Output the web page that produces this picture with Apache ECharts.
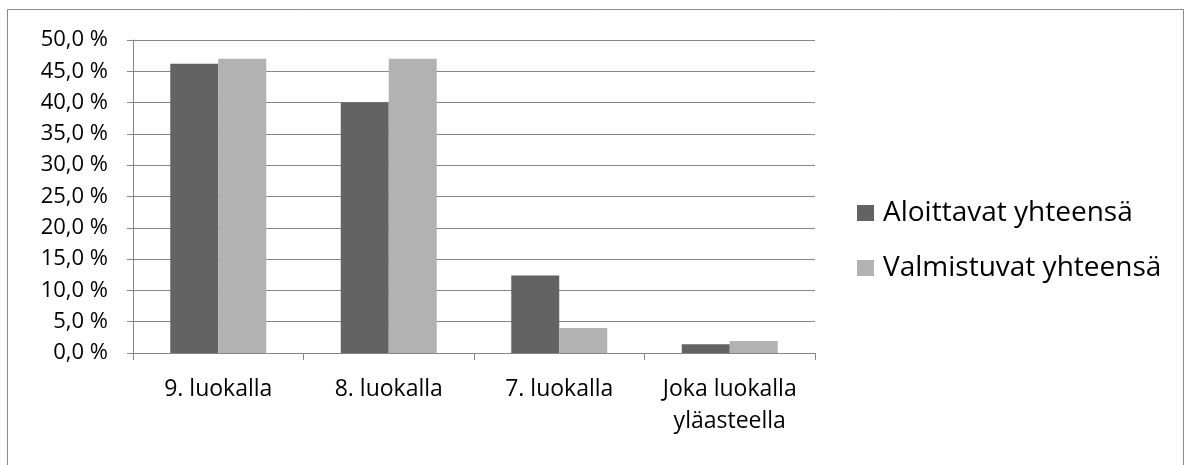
<!DOCTYPE html>
<html>
<head>
<meta charset="utf-8">
<script src="https://cdn.jsdelivr.net/npm/echarts@6/dist/echarts.min.js"></script>
<style>
html,body{margin:0;padding:0;background:#fff;}
#chart{width:1186px;height:465px;}
</style>
</head>
<body>
<div id="chart"></div>
<script>
const categories = ['9. luokalla', '8. luokalla', '7. luokalla', 'Joka luokalla\nyläasteella'];
const seriesNames = ['Aloittavat yhteensä', 'Valmistuvat yhteensä'];
const aloittavat = [46.2, 40.0, 12.4, 1.4];
const valmistuvat = [47.0, 47.0, 4.0, 1.9];
const yTicks = [0, 5, 10, 15, 20, 25, 30, 35, 40, 45, 50];

const FONT = 'Open Sans';
const chart = echarts.init(document.getElementById('chart'));
chart.setOption({
  animation: false,
  textStyle: { fontFamily: FONT },
  graphic: [{
    type: 'rect',
    shape: { x: 7.5, y: 9.5, width: 1176, height: 470 },
    style: { fill: 'none', stroke: '#8c8c8c', lineWidth: 1 },
    silent: true
  }],
  legend: {
    orient: 'vertical',
    left: 857,
    top: 198,
    padding: 0,
    itemWidth: 17,
    itemHeight: 16,
    itemGap: 25,
    icon: 'rect',
    textStyle: { fontFamily: FONT, fontSize: 28, color: '#000', lineHeight: 30, padding: [0, 0, 0, 4] },
    data: seriesNames
  },
  grid: { left: 133, right: 371, top: 40, bottom: 112, containLabel: false },
  xAxis: {
    type: 'category',
    data: categories,
    axisLine: { lineStyle: { color: '#868686', width: 1 } },
    axisTick: { show: true, length: 7, lineStyle: { color: '#868686' } },
    axisLabel: { interval: 0, hideOverlap: false, fontFamily: FONT, fontSize: 23, color: '#000', margin: 20, lineHeight: 32 },
    splitLine: { show: false }
  },
  yAxis: {
    type: 'value',
    min: yTicks[0],
    max: yTicks[yTicks.length - 1],
    interval: 5,
    axisLine: { show: true, lineStyle: { color: '#868686', width: 1 } },
    axisTick: { show: true, length: 6, lineStyle: { color: '#868686' } },
    axisLabel: {
      fontFamily: FONT, fontSize: 22, color: '#000', margin: 25,
      formatter: v => v.toFixed(1).replace('.', ',') + ' %'
    },
    splitLine: { show: true, lineStyle: { color: '#868686', width: 1 } }
  },
  series: [
    { name: seriesNames[0], type: 'bar', data: aloittavat, barWidth: 48, barGap: '0%',
      itemStyle: { color: '#636363' } },
    { name: seriesNames[1], type: 'bar', data: valmistuvat, barWidth: 48, barGap: '0%',
      itemStyle: { color: '#b2b2b2' } }
  ]
});
</script>
</body>
</html>
